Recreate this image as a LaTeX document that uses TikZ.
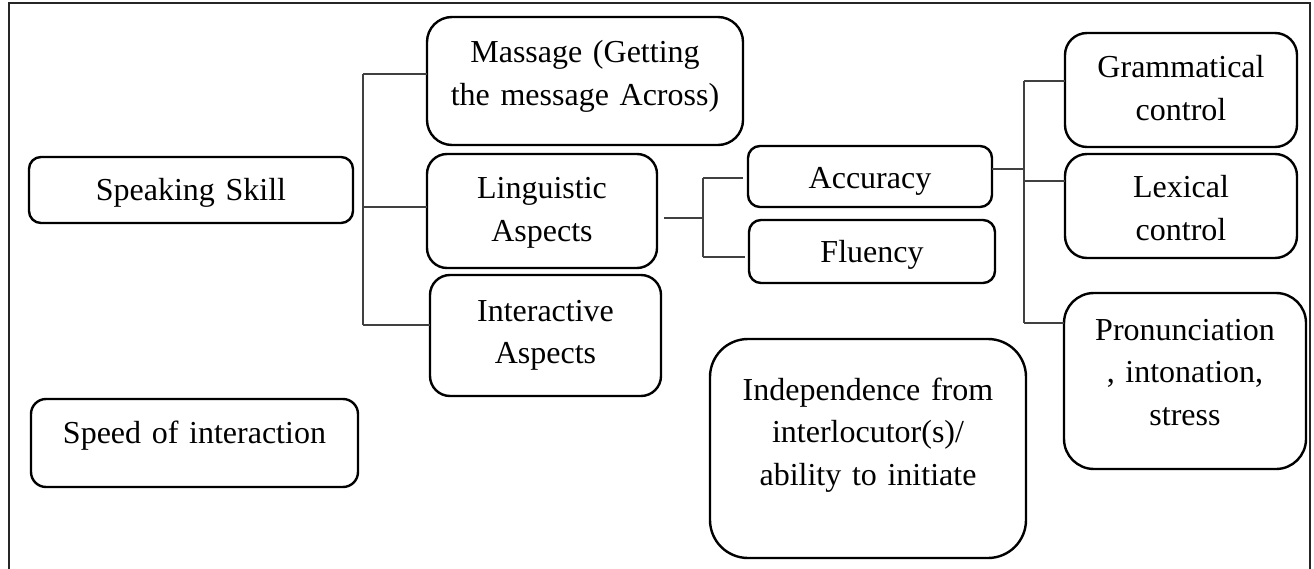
\documentclass[tikz,border=0pt]{standalone}
\usepackage{fontspec}
\setmainfont{Liberation Serif}
\begin{document}
\begin{tikzpicture}[x=1pt,y=-1pt,
  box/.style={draw=black, line width=2.4pt, rounded corners=#1,
    inner sep=0pt, outer sep=0pt},
  box/.default=12pt,
  txt/.style={font=\fontsize{32}{42.5}\selectfont, text width=330pt,
    align=center, inner sep=0pt, anchor=base},
  conn/.style={draw=black!75, line width=1.3pt},
  frame/.style={draw=black!85, line width=2.4pt}]
\useasboundingbox (0,0) rectangle (1314,569);

% outer frame (open at the bottom)
\draw[frame] (9,580) -- (9,3) -- (1310,3) -- (1310,580);

% boxes
\node[box=12pt, minimum width=324pt, minimum height=66pt]  (ss)    at (191,190)   {};
\node[box=25pt, minimum width=316pt, minimum height=128pt] (msg)   at (585,81)    {};
\node[box=20pt, minimum width=230pt, minimum height=114pt] (ling)  at (542,211)   {};
\node[box=20pt, minimum width=231pt, minimum height=121pt] (inter) at (545.5,335.5) {};
\node[box=15pt, minimum width=327pt, minimum height=88pt]  (speed) at (194.5,443) {};
\node[box=12pt, minimum width=244pt, minimum height=61pt]  (acc)   at (870,176.5) {};
\node[box=12pt, minimum width=246pt, minimum height=63pt]  (flu)   at (872,251.5) {};
\node[box=22pt, minimum width=232pt, minimum height=114pt] (gram)  at (1181,90)   {};
\node[box=22pt, minimum width=232pt, minimum height=104pt] (lex)   at (1181,206)  {};
\node[box=30pt, minimum width=242pt, minimum height=176pt] (pron)  at (1185,381)  {};
\node[box=38pt, minimum width=316pt, minimum height=219pt] (indep) at (868,448.5) {};

% labels (anchored at the baseline of the first line)
\node[txt] (ssT)    at (191,201)   {Speaking Skill};
\node[txt] (msgT)   at (585,63)    {Massage (Getting\\the message Across)};
\node[txt] (lingT)  at (542,199)   {Linguistic\\Aspects};
\node[txt] (interT) at (545.5,321) {Interactive\\Aspects};
\node[txt] (speedT) at (194.5,443) {Speed of interaction};
\node[txt] (accT)   at (870,189)   {Accuracy};
\node[txt] (fluT)   at (872,263)   {Fluency};
\node[txt] (gramT)  at (1181,78)   {Grammatical\\control};
\node[txt] (lexT)   at (1181,198)  {Lexical\\control};
\node[txt] (pronT)  at (1185,340)  {Pronunciation\\, intonation,\\stress};
\node[txt] (indepT) at (868,400)   {Independence from\\interlocutor(s)/\\ability to initiate};

% first-level bracket
\coordinate (t1) at (363,74);
\coordinate (t2) at (363,207);
\coordinate (t3) at (363,325);
\draw[conn] (t1) -- (t3);
\draw[conn] (t1) -- (msg.west |- t1);
\draw[conn] (t2) -- (ling.west |- t2);
\draw[conn] (t3) -- (inter.west |- t3);

% bracket after Linguistic Aspects
\coordinate (u0) at (703,218);
\coordinate (u1) at (703,178);
\coordinate (u2) at (703,257);
\draw[conn, shorten <=7pt] (ling.east |- u0) -- (u0);
\draw[conn] (u1) -- (u2);
\draw[conn, shorten >=5pt] (u1) -- (acc.west |- u1);
\draw[conn, shorten >=4pt] (u2) -- (flu.west |- u2);

% bracket after Accuracy
\coordinate (v0) at (1024,169);
\coordinate (v1) at (1024,81);
\coordinate (v3) at (1024,181);
\coordinate (v4) at (1024,323);
\draw[conn] (acc.east |- v0) -- (v0);
\draw[conn] (v1) -- (v4);
\draw[conn] (v1) -- (gram.west |- v1);
\draw[conn] (v3) -- (lex.west |- v3);
\draw[conn] (v4) -- (pron.west |- v4);
\end{tikzpicture}
\end{document}
